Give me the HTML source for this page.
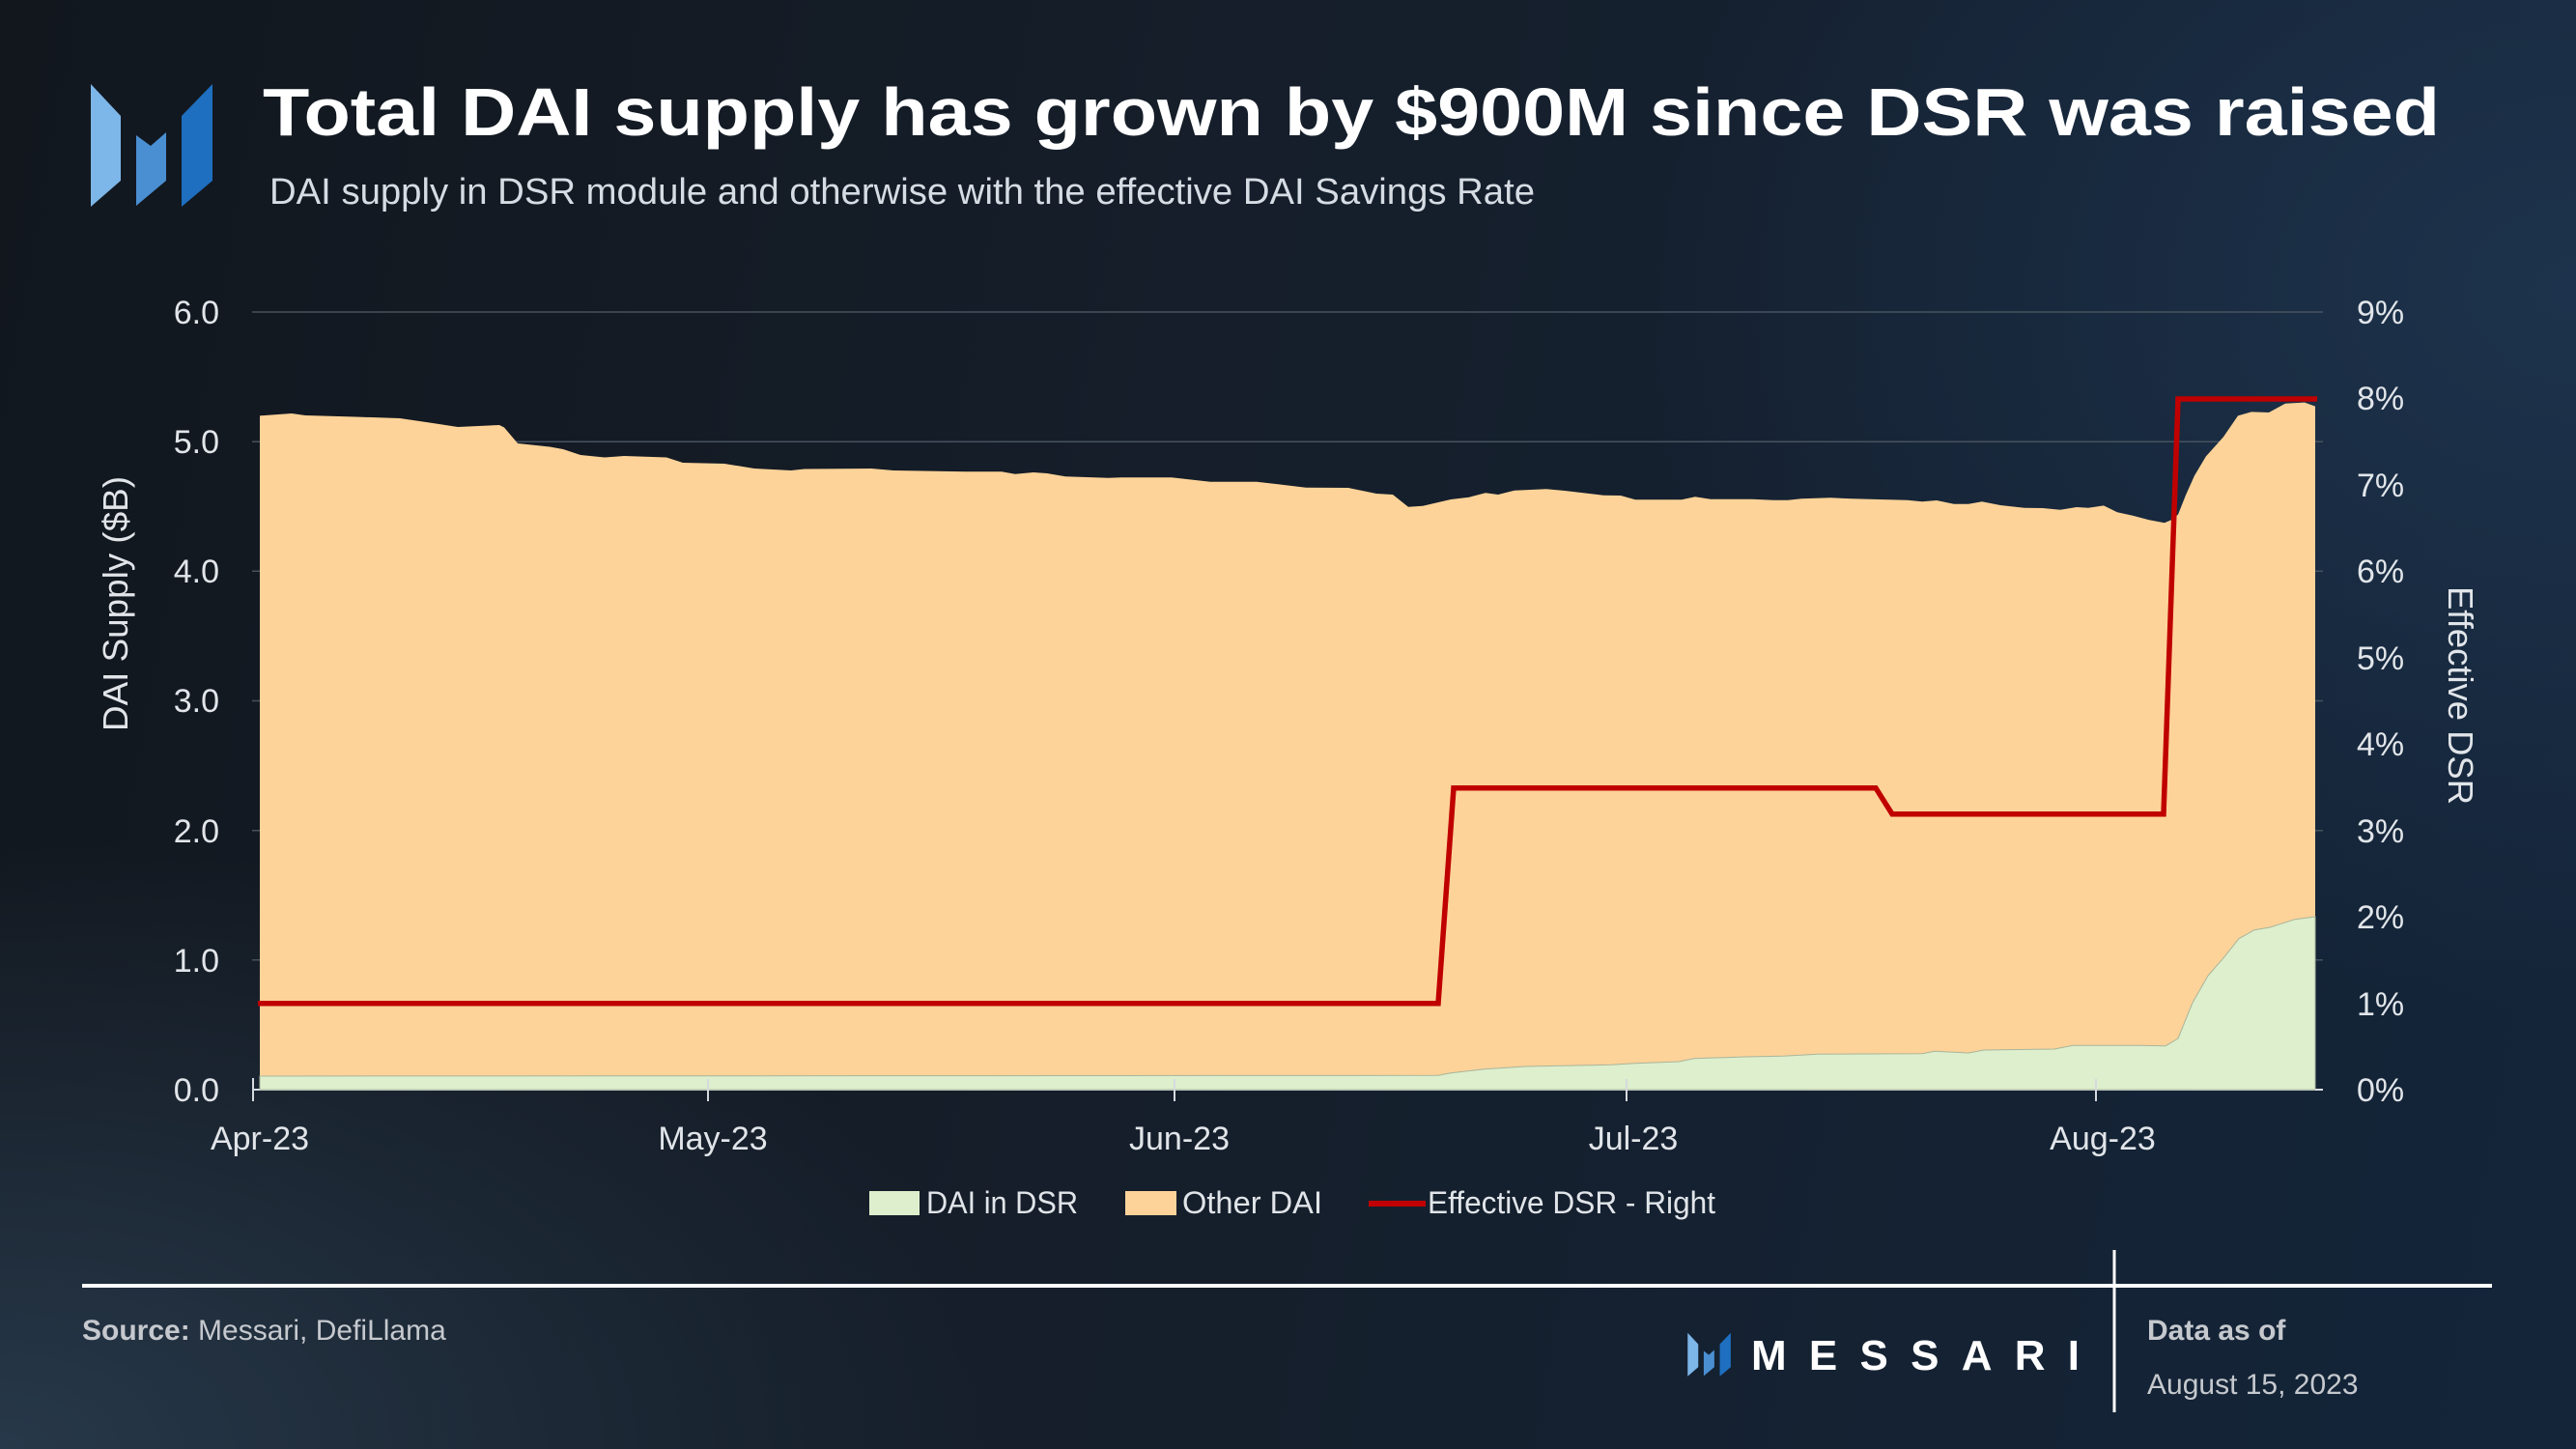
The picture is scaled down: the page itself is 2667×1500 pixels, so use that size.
<!DOCTYPE html>
<html>
<head>
<meta charset="utf-8">
<style>
html,body{margin:0;padding:0;}
body{width:2667px;height:1500px;overflow:hidden;
background:
 radial-gradient(ellipse 1500px 900px at 0% 100%, rgba(40,58,76,0.95) 0%, rgba(40,58,76,0) 70%),
 radial-gradient(ellipse 1300px 1000px at 100% 20%, rgba(30,52,78,0.9) 0%, rgba(30,52,78,0) 75%),
 linear-gradient(100deg, #12171e 0%, #151e2a 45%, #14253a 100%);
font-family:"Liberation Sans", sans-serif;}
svg{position:absolute;left:0;top:0;}
</style>
</head>
<body>
<svg width="2667" height="1500" viewBox="0 0 2667 1500" xmlns="http://www.w3.org/2000/svg" font-family="Liberation Sans, sans-serif">
  <!-- Logo -->
  <g>
    <polygon points="94,87 125,120 125,187 94,214" fill="#7db6e8"/>
    <polygon points="141,140 156,151 172,137 172,187 141,213" fill="#4a8fd2"/>
    <polygon points="188,120 220,87 220,187 188,214" fill="#1e6fc0"/>
  </g>
  <!-- Title -->
  <text x="272" y="140" font-size="70" font-weight="bold" fill="#ffffff" textLength="2254" lengthAdjust="spacingAndGlyphs">Total DAI supply has grown by $900M since DSR was raised</text>
  <text x="279" y="211" font-size="38" fill="#d6dce3" textLength="1310" lengthAdjust="spacingAndGlyphs">DAI supply in DSR module and otherwise with the effective DAI Savings Rate</text>

  <!-- gridlines -->
  <g stroke="#46525e" stroke-width="1.5">
    <line x1="261" y1="323" x2="2405" y2="323"/>
    <line x1="261" y1="457.2" x2="2405" y2="457.2"/>
    <line x1="261" y1="591.3" x2="2405" y2="591.3"/>
    <line x1="261" y1="725.5" x2="2405" y2="725.5"/>
    <line x1="261" y1="859.7" x2="2405" y2="859.7"/>
    <line x1="261" y1="993.8" x2="2405" y2="993.8"/>
  </g>
  <line x1="261" y1="1128" x2="2405" y2="1128" stroke="#c8cdd2" stroke-width="2"/>

  <!-- Other DAI (orange) area -->
  <polygon fill="#fdd399" points="269,430.4 302,428 316,430 368,431.5 414,433 448,438 474,442 517,440 522,442.5 536,459 569,462.5 583,465 601,471 626,473.5 646,472 690,473.5 707,479 750,480 781,485 819,487 833,485.5 902,485 925,487 1000,488.3 1037,488.3 1051,490.7 1070,489 1084,490 1103,493.3 1147,494.7 1161,494.3 1213,494.3 1253,498.7 1301,498.7 1323,501.3 1352,504.7 1396,505 1425,511 1442,512 1458,524.7 1473,523.7 1502,517 1521,514.7 1538,510.3 1551,512 1568,507.7 1601,506.3 1620,508 1660,512.7 1678,513 1693,517.3 1741,517.3 1755,514.3 1771,516.7 1814,516.7 1836,517.7 1851,517.7 1865,516.3 1895,515.3 1917,516.3 1946,517 1975,517.7 1990,519.3 2005,518 2023,521.7 2038,521.7 2052,519.3 2071,523 2096,525.7 2115,526 2133,527.7 2150,525 2162,525.7 2178,523.4 2192,530.3 2208,533.7 2225,538.3 2241,541.2 2248,538.3 2255,532.6 2263,512.5 2272,492.4 2284,472.3 2302,452.2 2317,430.4 2331,426.4 2349,427 2366,417.8 2386,416.6 2397,420.6 2397,1128 269,1128"/>

  <!-- DAI in DSR (green) area -->
  <polygon fill="#ddefcc" stroke="#a9b59c" stroke-width="1" points="269,1114 1489,1113.3 1502,1110.7 1537,1106.7 1579,1104 1617,1103.3 1668,1102.3 1693,1100.7 1738,1099 1754,1095.7 1808,1094 1846,1093.3 1882,1091.3 1990,1090.7 2003,1088.3 2038,1090 2054,1087 2127,1086 2146,1082.3 2216,1082.3 2242,1082.7 2255,1075 2270,1038 2286,1010 2302,991.7 2318,971.7 2334,962.7 2350,960 2376,951.7 2397,949 2397,1128 269,1128"/>

  <!-- x ticks -->
  <g stroke="#d6dadf" stroke-width="2">
    <line x1="262" y1="1116" x2="262" y2="1140"/>
    <line x1="262" y1="1128" x2="269" y2="1128"/>
    <line x1="733" y1="1117" x2="733" y2="1140"/>
    <line x1="1216" y1="1117" x2="1216" y2="1140"/>
    <line x1="1684" y1="1117" x2="1684" y2="1140"/>
    <line x1="2170" y1="1117" x2="2170" y2="1140"/>
    <line x1="2397" y1="1128" x2="2405" y2="1128"/>
  </g>

  <!-- Effective DSR line -->
  <polyline fill="none" stroke="#c00000" stroke-width="5.5" stroke-linejoin="miter" points="267,1038.7 1489,1038.7 1505,815.7 1942,815.7 1959,842.7 2240,842.7 2255,413 2399,413"/>

  <!-- Left axis labels -->
  <g font-size="34" fill="#e1e5e9" text-anchor="end">
    <text x="227" y="335">6.0</text>
    <text x="227" y="469">5.0</text>
    <text x="227" y="603">4.0</text>
    <text x="227" y="737">3.0</text>
    <text x="227" y="872">2.0</text>
    <text x="227" y="1006">1.0</text>
    <text x="227" y="1140">0.0</text>
  </g>
  <!-- Right axis labels -->
  <g font-size="34" fill="#e1e5e9" text-anchor="start">
    <text x="2440" y="335">9%</text>
    <text x="2440" y="424">8%</text>
    <text x="2440" y="514">7%</text>
    <text x="2440" y="603">6%</text>
    <text x="2440" y="693">5%</text>
    <text x="2440" y="782">4%</text>
    <text x="2440" y="872">3%</text>
    <text x="2440" y="961">2%</text>
    <text x="2440" y="1051">1%</text>
    <text x="2440" y="1140">0%</text>
  </g>
  <!-- X labels -->
  <g font-size="34" fill="#e1e5e9" text-anchor="middle">
    <text x="269" y="1190">Apr-23</text>
    <text x="738" y="1190">May-23</text>
    <text x="1221" y="1190">Jun-23</text>
    <text x="1691" y="1190">Jul-23</text>
    <text x="2177" y="1190">Aug-23</text>
  </g>
  <!-- Axis titles -->
  <text transform="translate(132,625) rotate(-90)" text-anchor="middle" font-size="36" fill="#e1e5e9" textLength="264" lengthAdjust="spacingAndGlyphs">DAI Supply ($B)</text>
  <text transform="translate(2535,720) rotate(90)" text-anchor="middle" font-size="36" fill="#e1e5e9" textLength="226" lengthAdjust="spacingAndGlyphs">Effective DSR</text>

  <!-- Legend -->
  <rect x="900" y="1233" width="52" height="25" fill="#ddefcc"/>
  <text x="959" y="1256" font-size="32" fill="#e1e5e9" textLength="157" lengthAdjust="spacingAndGlyphs">DAI in DSR</text>
  <rect x="1165" y="1233" width="53" height="25" fill="#fdd399"/>
  <text x="1224" y="1256" font-size="32" fill="#e1e5e9" textLength="145" lengthAdjust="spacingAndGlyphs">Other DAI</text>
  <line x1="1417" y1="1246" x2="1476" y2="1246" stroke="#c00000" stroke-width="6"/>
  <text x="1478" y="1256" font-size="32" fill="#e1e5e9" textLength="298" lengthAdjust="spacingAndGlyphs">Effective DSR - Right</text>

  <!-- Footer -->
  <line x1="85" y1="1331" x2="2580" y2="1331" stroke="#ffffff" stroke-width="4"/>
  <line x1="2189" y1="1294" x2="2189" y2="1462" stroke="#ffffff" stroke-width="3"/>
  <text x="85" y="1387" font-size="30" fill="#c5c9ce"><tspan font-weight="bold">Source:</tspan> Messari, DefiLlama</text>
  <text x="2223" y="1387" font-size="30" font-weight="bold" fill="#c5c9ce">Data as of</text>
  <text x="2223" y="1443" font-size="30" fill="#c5c9ce">August 15, 2023</text>

  <!-- MESSARI logo -->
  <g transform="translate(1714,1349) scale(0.354)">
    <polygon points="94,87 125,120 125,187 94,214" fill="#7db6e8"/>
    <polygon points="141,140 156,151 172,137 172,187 141,213" fill="#4a8fd2"/>
    <polygon points="188,120 220,87 220,187 188,214" fill="#1e6fc0"/>
  </g>
  <text x="1813" y="1418" font-size="44" font-weight="bold" fill="#ffffff" textLength="340" lengthAdjust="spacing">MESSARI</text>
</svg>
</body>
</html>
